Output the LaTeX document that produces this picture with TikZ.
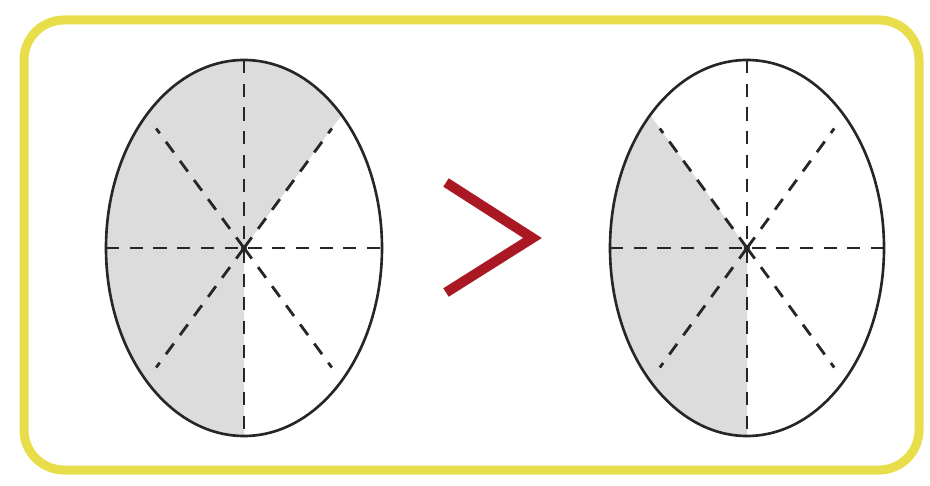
\documentclass[tikz,border=0pt]{standalone}
\usetikzlibrary{calc}
\definecolor{frameyellow}{RGB}{232,222,75}
\definecolor{signred}{RGB}{170,25,35}
\definecolor{partgray}{RGB}{220,220,220}

\begin{document}
\begin{tikzpicture}[
    frame/.style={draw=frameyellow, line width=1.8mm, rounded corners=0.8cm},
    rim/.style={draw=black!85, line width=1.5pt},
    cut/.style={black!85, line width=1.6pt, dash pattern=on 7.5pt off 6pt},
    part/.style={fill=partgray},
    sign/.style={draw=signred, line width=2mm, miter limit=10}
]
    \useasboundingbox (0,0) rectangle (18.6,9.7);
    \draw[frame] (0.48,0.30) rectangle (18.38,9.30);

    \coordinate (L) at (4.88,4.74);
    \coordinate (R) at (14.94,4.74);

    % shaded parts: 5/8 left, 3/8 right
    \fill[part] (L) -- ($(L)+(45:2.76cm and 3.76cm)$)
        arc[start angle=45, end angle=270, x radius=2.76cm, y radius=3.76cm] -- cycle;
    \fill[part] (R) -- ($(R)+(135:2.74cm and 3.76cm)$)
        arc[start angle=135, end angle=270, x radius=2.74cm, y radius=3.76cm] -- cycle;

    % cuts into eighths
    \foreach \c/\rx in {L/2.76, R/2.74} {
        \draw[cut] ($(\c)+(-\rx,0)$) -- ($(\c)+(\rx,0)$);
        \draw[cut] ($(\c)+(0,3.76)$) -- ($(\c)+(0,-3.76)$);
        \foreach \a in {45,135,225,315}
            \draw[cut] (\c) -- ($(\c)+(\a:0.9*\rx cm and 3.38cm)$);
        \fill[black!85] (\c) circle (0.06);
        \draw[rim] (\c) ellipse[x radius=\rx cm, y radius=3.76cm];
    }

    % greater-than sign
    \coordinate (gtA) at (8.92,6.05);
    \coordinate (gtB) at (10.65,4.94);
    \coordinate (gtC) at (8.92,3.85);
    \draw[sign] (gtA) -- (gtB) -- (gtC);
\end{tikzpicture}
\end{document}
